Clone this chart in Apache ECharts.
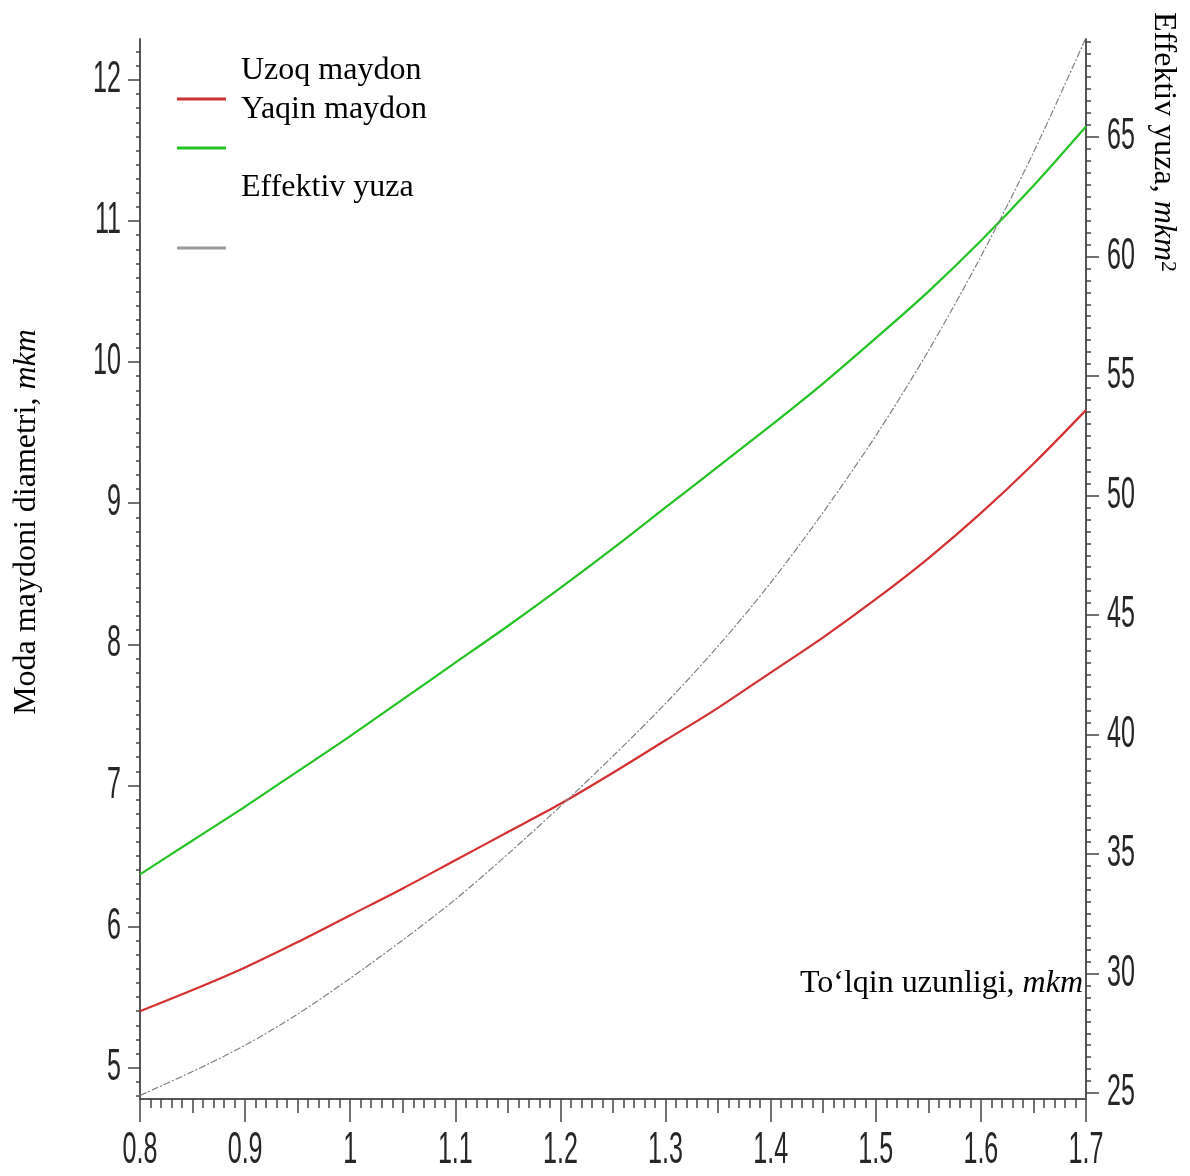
<!DOCTYPE html>
<html>
<head>
<meta charset="utf-8">
<script src="https://cdn.jsdelivr.net/npm/echarts@6/dist/echarts.min.js"></script>
<style>
  html, body { margin: 0; padding: 0; background: #ffffff; }
  #chart { width: 1190px; height: 1176px; }
</style>
</head>
<body>
<div id="chart"></div>
<script>
// Wavelength samples, mkm
const wavelength = [0.80, 0.85, 0.90, 0.95, 1.00, 1.05, 1.10, 1.15, 1.20, 1.25,
                    1.30, 1.35, 1.40, 1.45, 1.50, 1.55, 1.60, 1.65, 1.70];
// Mode field diameter, far field (mkm)
const uzoqMaydon = [5.40, 5.55, 5.71, 5.89, 6.08, 6.27, 6.47, 6.67, 6.87, 7.09,
                    7.32, 7.55, 7.80, 8.05, 8.32, 8.61, 8.93, 9.28, 9.66];
// Mode field diameter, near field (mkm)
const yaqinMaydon = [6.37, 6.61, 6.85, 7.10, 7.35, 7.61, 7.87, 8.13, 8.40, 8.68,
                     8.97, 9.26, 9.55, 9.85, 10.17, 10.50, 10.86, 11.25, 11.67];
// Effective area (mkm^2), right axis
const effektivYuza = [24.9, 25.9, 27.0, 28.3, 29.8, 31.4, 33.1, 35.0, 37.0, 39.1,
                      41.3, 43.7, 46.35, 49.3, 52.5, 56.05, 60.0, 64.35, 69.15];

// Tick labels
const xTickValues = [0.8, 0.9, 1.0, 1.1, 1.2, 1.3, 1.4, 1.5, 1.6, 1.7];
const xTickLabels = ['0.8', '0.9', '1', '1.1', '1.2', '1.3', '1.4', '1.5', '1.6', '1.7'];
const leftTickValues = [5, 6, 7, 8, 9, 10, 11, 12];
const rightTickValues = [25, 30, 35, 40, 45, 50, 55, 60, 65];

// Axis extents
const X_MIN = 0.8, X_MAX = 1.7;
const L_MIN = 4.778, L_MAX = 12.29;
const R_MIN = 24.75, R_MAX = 69.1;

const SANS = '"Liberation Sans", Arial, sans-serif';
const SERIF = '"Liberation Serif", "Times New Roman", serif';
const AXIS_COLOR = '#555555';
const TICK_COLOR = '#444444';

function steps(from, to, step) {
  const out = [];
  const n = Math.round((to - from) / step);
  for (let i = 0; i <= n; i++) out.push(+(from + i * step).toFixed(4));
  return out;
}
const xMinor = steps(0.8, 1.7, 0.01);
const xMid = steps(0.85, 1.65, 0.1);
const leftMinor = steps(4.8, 12.2, 0.1);
const rightMinor = steps(25, 69, 0.5);

function pairs(ys) { return wavelength.map((x, i) => [x, ys[i]]); }

function tickAxis(base, values, length, showLine) {
  return Object.assign({
    type: 'value',
    axisLine: { show: !!showLine, onZero: false, lineStyle: { color: AXIS_COLOR, width: 2 } },
    axisTick: { show: true, inside: false, length: length, customValues: values,
                lineStyle: { color: TICK_COLOR, width: 1.5 } },
    axisLabel: { show: false },
    splitLine: { show: false }
  }, base);
}

const chart = echarts.init(document.getElementById('chart'), null, { renderer: 'canvas' });

const option = {
  backgroundColor: '#ffffff',
  animation: false,
  grid: { left: 140, right: 104, top: 39, bottom: 77, containLabel: false },
  xAxis: [
    tickAxis({ min: X_MIN, max: X_MAX, position: 'bottom' }, xTickValues, 23, true),
    tickAxis({ min: X_MIN, max: X_MAX, position: 'bottom' }, xMid, 14, false),
    tickAxis({ min: X_MIN, max: X_MAX, position: 'bottom' }, xMinor, 9, false)
  ],
  yAxis: [
    tickAxis({ min: L_MIN, max: L_MAX, position: 'left' }, leftTickValues, 12, true),
    tickAxis({ min: R_MIN, max: R_MAX, position: 'right' }, rightTickValues, 13, true),
    tickAxis({ min: L_MIN, max: L_MAX, position: 'left' }, leftMinor, 4, false),
    tickAxis({ min: R_MIN, max: R_MAX, position: 'right' }, rightMinor, 5, false)
  ],
  series: [
    {
      name: 'Uzoq maydon', type: 'line', xAxisIndex: 0, yAxisIndex: 0,
      data: pairs(uzoqMaydon), smooth: 0.3, showSymbol: false,
      lineStyle: { color: '#d43030', width: 2.2 }, itemStyle: { color: '#d43030' }
    },
    {
      name: 'Yaqin maydon', type: 'line', xAxisIndex: 0, yAxisIndex: 0,
      data: pairs(yaqinMaydon), smooth: 0.3, showSymbol: false,
      lineStyle: { color: '#22c322', width: 2.2 }, itemStyle: { color: '#22c322' }
    },
    {
      name: 'Effektiv yuza', type: 'line', xAxisIndex: 0, yAxisIndex: 1,
      data: pairs(effektivYuza), smooth: 0.3, showSymbol: false,
      lineStyle: { color: '#808080', width: 1.2, type: [7, 2, 2, 2] }, itemStyle: { color: '#808080' }
    }
  ]
};
chart.setOption(option);

// Tick labels, axis titles and legend drawn on top, placed from the axis scales
const gfx = [];
const xAxisY = chart.convertToPixel({ yAxisIndex: 0 }, L_MIN);
const leftX = chart.convertToPixel({ xAxisIndex: 0 }, X_MIN);
const rightX = chart.convertToPixel({ xAxisIndex: 0 }, X_MAX);
const digitFont = { fontFamily: SANS, fontSize: 44, fill: '#262626' };

xTickValues.forEach((v, i) => {
  gfx.push({
    type: 'text', x: chart.convertToPixel({ xAxisIndex: 0 }, v), y: xAxisY + 52, scaleX: 0.57,
    style: Object.assign({ text: xTickLabels[i], align: 'center', verticalAlign: 'middle' }, digitFont)
  });
});
leftTickValues.forEach(v => {
  gfx.push({
    type: 'text', x: leftX - 19, y: chart.convertToPixel({ yAxisIndex: 0 }, v), scaleX: 0.57,
    style: Object.assign({ text: String(v), align: 'right', verticalAlign: 'middle' }, digitFont)
  });
});
rightTickValues.forEach(v => {
  gfx.push({
    type: 'text', x: rightX + 21, y: chart.convertToPixel({ yAxisIndex: 1 }, v), scaleX: 0.57,
    style: Object.assign({ text: String(v), align: 'left', verticalAlign: 'middle' }, digitFont)
  });
});

const titleRich = {
  a: { fontFamily: SERIF, fontSize: 32, fill: '#000000' },
  i: { fontFamily: SERIF, fontSize: 32, fontStyle: 'italic', fill: '#000000' },
  s: { fontFamily: SERIF, fontSize: 22, fill: '#000000', verticalAlign: 'top' }
};

// Left axis title
gfx.push({
  type: 'text', x: 27, y: 522, rotation: Math.PI / 2,
  style: { text: '{a|Moda maydoni diametri, }{i|mkm}', rich: titleRich, align: 'center', verticalAlign: 'middle' }
});
// Right axis title
gfx.push({
  type: 'text', x: 1163, y: 142, rotation: -Math.PI / 2,
  style: { text: '{a|Effektiv yuza, }{i|mkm}{s|2}', rich: titleRich, align: 'center', verticalAlign: 'middle' }
});
// X axis title
gfx.push({
  type: 'text', x: rightX - 3, y: 984,
  style: { text: '{a|To‘lqin uzunligi, }{i|mkm}', rich: titleRich, align: 'right', verticalAlign: 'middle' }
});

// Legend
const legendLines = [
  { y: 99, color: '#cc3030' },
  { y: 148, color: '#22c322' },
  { y: 248, color: '#9a9a9a' }
];
legendLines.forEach(l => {
  gfx.push({
    type: 'line', shape: { x1: 177, y1: l.y, x2: 226, y2: l.y },
    style: { stroke: l.color, lineWidth: 3 }
  });
});
const legendTexts = [
  { text: 'Uzoq maydon', y: 71 },
  { text: 'Yaqin maydon', y: 110 },
  { text: 'Effektiv yuza', y: 188 }
];
legendTexts.forEach(t => {
  gfx.push({
    type: 'text', x: 241, y: t.y,
    style: { text: t.text, fontFamily: SERIF, fontSize: 32, fill: '#000000', align: 'left', verticalAlign: 'middle' }
  });
});

chart.setOption({ graphic: gfx });
</script>
</body>
</html>
